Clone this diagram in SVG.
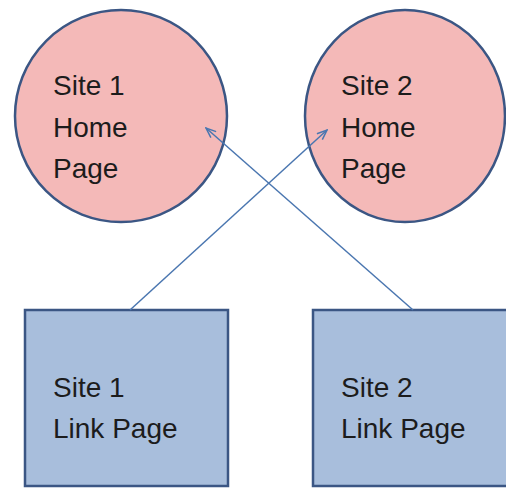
<svg xmlns="http://www.w3.org/2000/svg" width="506" height="488" viewBox="0 0 506 488">
<style>
.home{fill:#f4b9b8;stroke:#3b5684;stroke-width:2.5}
.link{fill:#a8bedc;stroke:#3b5684;stroke-width:2.5}
.lbl{font-family:"Liberation Sans",Arial,sans-serif;font-size:28px;fill:#1c1c1c}
.conn{stroke:#4a76b0;stroke-width:1.5;fill:none;marker-end:url(#arr)}
</style>
<defs>
<marker id="arr" markerWidth="12" markerHeight="10" refX="11" refY="5" orient="auto" markerUnits="userSpaceOnUse">
<path d="M1,1 L11,5 L1,9" fill="none" stroke="#4a76b0" stroke-width="1.5"/>
</marker>
</defs>
<rect width="506" height="488" fill="#ffffff"/>
<g id="site1-home">
<ellipse class="home" cx="121" cy="116" rx="106" ry="106"/>
<text class="lbl" x="53" y="95">Site 1</text>
<text class="lbl" x="53" y="137">Home</text>
<text class="lbl" x="53" y="178">Page</text>
</g>
<g id="site2-home">
<ellipse class="home" cx="405" cy="116" rx="100" ry="106"/>
<text class="lbl" x="341" y="95">Site 2</text>
<text class="lbl" x="341" y="137">Home</text>
<text class="lbl" x="341" y="178">Page</text>
</g>
<g id="site1-link">
<rect class="link" x="25" y="310" width="203" height="176"/>
<text class="lbl" x="53" y="397">Site 1</text>
<text class="lbl" x="53" y="438">Link Page</text>
</g>
<g id="site2-link">
<rect class="link" x="313" y="310" width="200" height="176"/>
<text class="lbl" x="341" y="397">Site 2</text>
<text class="lbl" x="341" y="438">Link Page</text>
</g>
<g id="connectors">
<line class="conn" x1="130" y1="310" x2="327" y2="130"/>
<line class="conn" x1="413" y1="310" x2="206" y2="128"/>
</g>
</svg>
